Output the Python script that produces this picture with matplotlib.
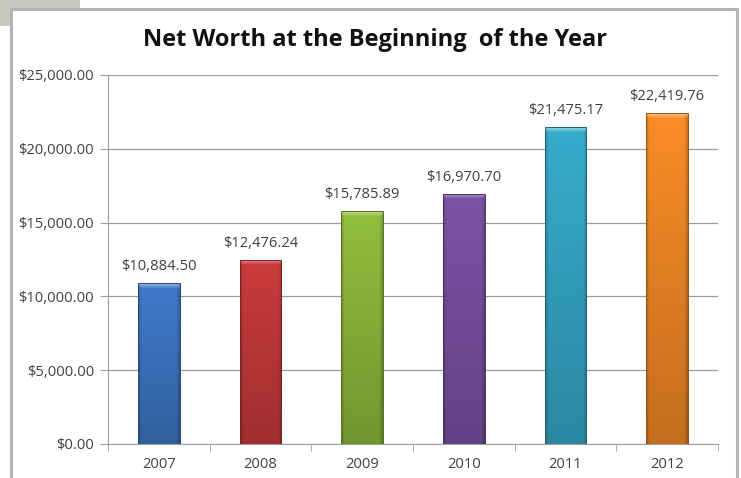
import matplotlib.pyplot as plt
import numpy as np
from matplotlib.colors import to_rgb
from matplotlib.patches import Rectangle
from matplotlib.ticker import FuncFormatter, MultipleLocator

years = ["2007", "2008", "2009", "2010", "2011", "2012"]
net_worth = [10884.50, 12476.24, 15785.89, 16970.70, 21475.17, 22419.76]
colors = ["#3f78c6", "#c73a3c", "#8fbb3c", "#7a52a4", "#36a9c9", "#f58a26"]

plt.rcParams["font.family"] = ["Open Sans", "DejaVu Sans"]

fig = plt.figure(figsize=(7.41, 4.78), dpi=100)

# grey tab behind the chart frame, and the frame itself
fig.patches.append(Rectangle((0, 1 - 26 / 478), 80 / 741, 26 / 478,
                             transform=fig.transFigure, facecolor="#c8c8be",
                             edgecolor="none", zorder=0))
fig.patches.append(Rectangle((11 / 741, -0.05), 726 / 741, 1.05 - 9 / 478,
                             transform=fig.transFigure, facecolor="white",
                             edgecolor="#b4b4b4", linewidth=2.2, zorder=1))

ax = fig.add_axes([108 / 741, 1 - 444 / 478, 610 / 741, 369 / 478])
ax.set_zorder(5)
ax.set_facecolor("none")
x = np.arange(len(years))
bars = ax.bar(x, net_worth, width=0.41, color=colors, zorder=3,
              edgecolor="none")

YMAX = 25000
AX_PX = 369


def shade(c, h):
    base = np.array(to_rgb(c))
    px = max(int(h / YMAX * AX_PX), 10)
    rows = np.arange(px)[:, None]
    cols = np.linspace(0, 1, 42)[None, :]
    # brighter at top, darker toward the bottom
    k = 1.02 - 0.22 * rows / px
    # darker bevel on the sides
    side = np.minimum(cols, 1 - cols)
    k = k - 0.18 * np.clip(1 - side / 0.08, 0, 1)
    img = np.clip(base[None, None, :] * k[:, :, None], 0, 1)
    # light bevel on top
    top = np.clip(1 - rows / 5.0, 0, 1)[:, :, None] * 0.45
    img = img * (1 - top) + top
    return img


for b, c in zip(bars, colors):
    x0, w, h = b.get_x(), b.get_width(), b.get_height()
    im = ax.imshow(shade(c, h), extent=[x0, x0 + w, 0, h], aspect="auto",
                   zorder=3, interpolation="bilinear")
    im.set_clip_path(b)
    ax.add_patch(Rectangle((x0, 0), w, h, facecolor="none",
                           edgecolor=np.array(to_rgb(c)) * 0.6,
                           linewidth=0.7, zorder=5))

for xi, v in zip(x, net_worth):
    ax.text(xi, v + 600, f"${v:,.2f}", ha="center", va="bottom",
            fontsize=10.6, color="#404040")

ax.set_xlim(-0.5, len(years) - 0.5)
ax.set_ylim(0, YMAX)
ax.yaxis.set_major_locator(MultipleLocator(5000))
ax.yaxis.set_major_formatter(FuncFormatter(lambda v, p: f"${v:,.2f}"))
ax.set_xticks(x)
ax.set_xticklabels(years)
ax.set_xticks(np.arange(-0.5, len(years)), minor=True)
ax.tick_params(axis="x", which="major", length=0, pad=9, labelsize=10.6,
               labelcolor="#404040")
ax.tick_params(axis="x", which="minor", length=5, color="#a0a0a0",
               direction="out")
ax.tick_params(axis="y", length=6, color="#a0a0a0", labelsize=10.6,
               labelcolor="#404040", pad=4)

ax.grid(axis="y", color="#9a9a9a", linewidth=0.9, zorder=0)
for s in ["top", "right"]:
    ax.spines[s].set_visible(False)
ax.spines["left"].set_color("#a0a0a0")
ax.spines["bottom"].set_color("#a0a0a0")

fig.text(375 / 741, 1 - 40 / 478, "Net Worth at the Beginning  of the Year",
         ha="center", va="center", fontsize=17, fontweight="bold",
         color="#111111")

fig.savefig("out.png", dpi=100)
